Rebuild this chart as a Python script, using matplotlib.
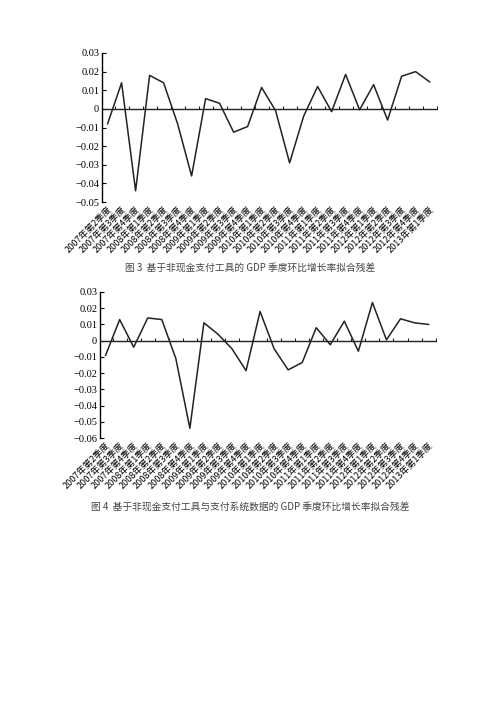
import matplotlib
matplotlib.use("Agg")
import matplotlib.pyplot as plt
import numpy as np

plt.rcParams['font.family'] = ['Liberation Serif', 'Noto Sans CJK SC', 'DejaVu Sans']

labels = []
for y in range(2007, 2014):
    for q in range(1, 5):
        if (y == 2007 and q == 1) or (y == 2013 and q > 1):
            continue
        labels.append(f"{y}年第{q}季度")

resid3 = [-0.008, 0.014, -0.044, 0.018, 0.014, -0.008, -0.036, 0.0055, 0.003, -0.0125,
          -0.0095, 0.0115, -0.001, -0.029, -0.004, 0.012, -0.0015, 0.0185, -0.0005, 0.013,
          -0.006, 0.0175, 0.020, 0.0145]
resid4 = [-0.009, 0.013, -0.004, 0.014, 0.013, -0.011, -0.054, 0.011, 0.004, -0.005,
          -0.0185, 0.018, -0.005, -0.018, -0.0135, 0.008, -0.0025, 0.012, -0.0065, 0.0235,
          0.0005, 0.0135, 0.011, 0.010]
cap3 = "图 3  基于非现金支付工具的 GDP 季度环比增长率拟合残差"
cap4 = "图 4  基于非现金支付工具与支付系统数据的 GDP 季度环比增长率拟合残差"

W, H = 500, 707
fig = plt.figure(figsize=(5, 7.07), dpi=100)

def draw(rect, data, ylim, yticks, cap, capy):
    ax = fig.add_axes(rect)
    x = np.arange(len(data))
    ax.plot(x, data, color='#222222', lw=1.1)
    ax.axhline(0, color='#222222', lw=1.0)
    ax.vlines(x + 0.5, 0, (ylim[1]-ylim[0]) * 0.018, color='#222222', lw=0.8)
    ax.set_xlim(-0.4, len(data) - 0.4)
    ax.set_ylim(*ylim)
    for s in ['top', 'right', 'bottom']:
        ax.spines[s].set_visible(False)
    ax.spines['left'].set_linewidth(1.0)
    ax.set_yticks(yticks)
    ax.set_yticklabels(['0' if abs(t) < 1e-12 else f"{t:.2f}".replace('-', '−') for t in yticks],
                       fontsize=7.5)
    ax.tick_params(axis='y', length=3, direction='in', pad=2)
    ax.set_xticks(x)
    ax.set_xticklabels(labels, rotation=45, ha='right', rotation_mode='anchor', fontsize=6.5,
                       family=['Noto Sans CJK SC', 'DejaVu Sans'])
    ax.tick_params(axis='x', length=0, pad=2)
    fig.text(0.5, 1 - capy / H, cap, ha='center', va='center', fontsize=7,
             family=['Noto Sans CJK SC', 'DejaVu Sans'], color='#444444')
    return ax

draw([102/W, 1-202/H, 336/W, 149/H], resid3, (-0.05, 0.03),
     [0.03, 0.02, 0.01, 0, -0.01, -0.02, -0.03, -0.04, -0.05], cap3, 268)
draw([100/W, 1-438/H, 337/W, 146/H], resid4, (-0.06, 0.03),
     [0.03, 0.02, 0.01, 0, -0.01, -0.02, -0.03, -0.04, -0.05, -0.06], cap4, 507)

fig.savefig("out.png", dpi=100, facecolor='white')
